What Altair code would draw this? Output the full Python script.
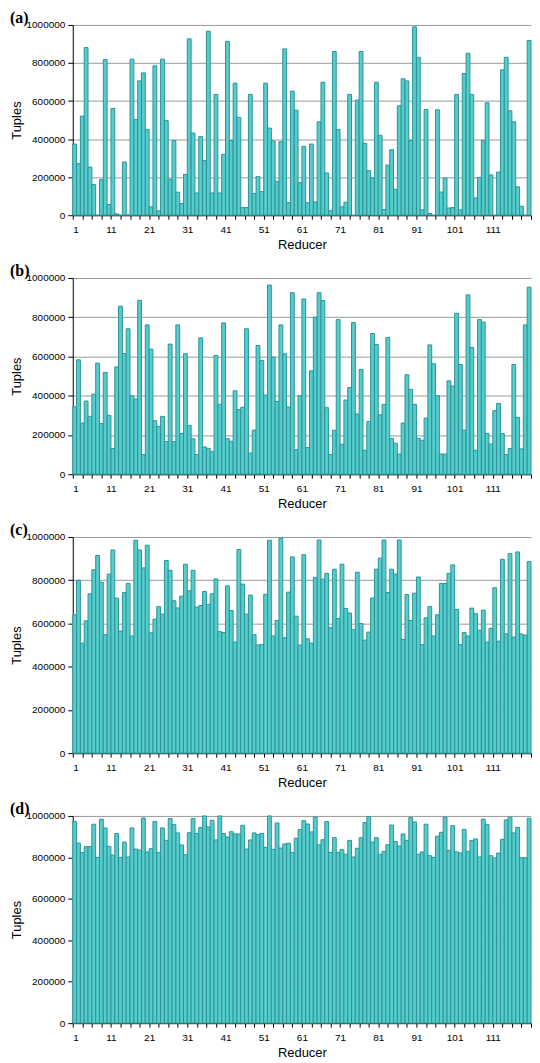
import altair as alt
import pandas as pd

reducers = list(range(1, 121))

a_vals = [374000, 271000, 521000, 881000, 253000, 161000, 0, 187000, 818000, 56000,
          561000, 7000, 0, 280000, 2000, 820000, 502000, 706000, 748000, 451000,
          44000, 785000, 23000, 820000, 497000, 189000, 392000, 121000, 61000, 215000,
          927000, 432000, 117000, 413000, 287000, 967000, 117000, 635000, 117000, 320000,
          914000, 393000, 694000, 514000, 40000, 40000, 635000, 115000, 203000, 124000,
          694000, 458000, 390000, 178000, 386000, 874000, 66000, 652000, 552000, 171000,
          362000, 65000, 374000, 70000, 491000, 699000, 222000, 24000, 860000, 451000,
          44000, 68000, 635000, 0, 605000, 860000, 378000, 234000, 196000, 699000,
          420000, 30000, 264000, 344000, 136000, 575000, 717000, 706000, 393000, 990000,
          830000, 28000, 556000, 9000, 0, 554000, 122000, 196000, 38000, 40000,
          635000, 28000, 745000, 851000, 635000, 91000, 199000, 393000, 591000, 212000,
          0, 227000, 764000, 830000, 549000, 491000, 149000, 47000, 0, 918000]

b_vals = [344000, 583000, 261000, 373000, 295000, 408000, 566000, 258000, 519000, 300000,
          131000, 547000, 856000, 615000, 741000, 400000, 383000, 886000, 100000, 761000,
          637000, 273000, 244000, 295000, 166000, 663000, 166000, 761000, 207000, 614000,
          249000, 180000, 100000, 695000, 139000, 132000, 115000, 605000, 356000, 771000,
          181000, 168000, 425000, 329000, 341000, 741000, 108000, 225000, 656000, 580000,
          403000, 964000, 597000, 371000, 761000, 614000, 342000, 925000, 125000, 400000,
          893000, 136000, 527000, 800000, 925000, 885000, 339000, 100000, 224000, 788000,
          153000, 378000, 442000, 773000, 307000, 534000, 122000, 269000, 717000, 661000,
          303000, 356000, 697000, 183000, 158000, 103000, 261000, 507000, 432000, 356000,
          183000, 173000, 286000, 659000, 563000, 400000, 103000, 103000, 476000, 449000,
          820000, 559000, 225000, 914000, 646000, 122000, 788000, 775000, 208000, 154000,
          324000, 361000, 207000, 100000, 131000, 559000, 290000, 129000, 761000, 953000]

c_vals = [640000, 800000, 509000, 612000, 737000, 848000, 914000, 791000, 548000, 828000,
          940000, 717000, 565000, 743000, 785000, 542000, 985000, 940000, 857000, 962000,
          557000, 620000, 678000, 643000, 891000, 846000, 705000, 672000, 726000, 874000,
          751000, 846000, 675000, 683000, 748000, 688000, 737000, 806000, 562000, 558000,
          774000, 660000, 514000, 942000, 782000, 643000, 731000, 548000, 500000, 503000,
          735000, 985000, 542000, 614000, 995000, 534000, 745000, 908000, 634000, 500000,
          918000, 529000, 509000, 812000, 986000, 805000, 832000, 580000, 851000, 623000,
          874000, 669000, 648000, 571000, 837000, 600000, 523000, 560000, 718000, 851000,
          902000, 986000, 743000, 851000, 829000, 986000, 526000, 734000, 614000, 740000,
          815000, 502000, 626000, 678000, 542000, 640000, 785000, 785000, 832000, 871000,
          665000, 502000, 558000, 542000, 671000, 645000, 569000, 662000, 514000, 577000,
          765000, 518000, 897000, 552000, 923000, 537000, 931000, 551000, 546000, 886000]

d_vals = [973000, 869000, 823000, 852000, 852000, 960000, 800000, 984000, 942000, 853000,
          811000, 915000, 800000, 874000, 802000, 942000, 840000, 835000, 990000, 826000,
          842000, 973000, 824000, 942000, 882000, 987000, 958000, 918000, 860000, 813000,
          919000, 987000, 916000, 944000, 1000000, 947000, 979000, 884000, 1000000, 915000,
          898000, 924000, 913000, 913000, 955000, 840000, 884000, 918000, 910000, 916000,
          848000, 1000000, 839000, 966000, 845000, 865000, 868000, 824000, 892000, 934000,
          977000, 961000, 923000, 995000, 861000, 885000, 973000, 824000, 895000, 824000,
          837000, 815000, 882000, 802000, 844000, 895000, 968000, 997000, 874000, 895000,
          815000, 829000, 861000, 956000, 877000, 855000, 913000, 882000, 992000, 971000,
          815000, 826000, 960000, 808000, 800000, 902000, 921000, 994000, 834000, 953000,
          827000, 821000, 935000, 829000, 882000, 889000, 802000, 984000, 958000, 808000,
          797000, 821000, 887000, 981000, 994000, 918000, 945000, 798000, 798000, 989000]

panel_labels = ["(a)", "(b)", "(c)", "(d)"]
panel_values = [a_vals, b_vals, c_vals, d_vals]
panel_heights = [191, 197, 217, 208]

x_tick_values = [1 + 2.5 * k for k in range(49)]
y_tick_values = [0, 200000, 400000, 600000, 800000, 1000000]

FILL = "#55CDCD"
EDGE = "#2E9396"


def panel(label, vals, h):
    df = pd.DataFrame({"reducer": reducers, "tuples": vals})
    df["reducer_end"] = df["reducer"] + 1
    return (
        alt.Chart(
            df,
            title=alt.TitleParams(
                label, anchor="start", frame="bounds", font="Liberation Serif",
                fontSize=16, fontWeight="bold", color="black", offset=-6,
            ),
        )
        .mark_bar(fill=FILL, stroke=EDGE, strokeWidth=1)
        .encode(
            x=alt.X(
                "reducer:Q",
                scale=alt.Scale(domain=[1, 121], nice=False, zero=False),
                axis=alt.Axis(
                    title="Reducer", values=x_tick_values, grid=False,
                    labelExpr="datum.value < 120 && (datum.value - 1) % 10 == 0 ? '' + datum.value : ''",
                    labelOverlap=False, tickSize=4, labelPadding=5, titlePadding=4,
                ),
            ),
            x2="reducer_end:Q",
            y=alt.Y(
                "tuples:Q",
                scale=alt.Scale(domain=[0, 1000000], nice=False),
                axis=alt.Axis(
                    title="Tuples", values=y_tick_values, format="d", grid=True,
                    tickSize=5, labelPadding=3, titlePadding=3,
                ),
            ),
            y2=alt.datum(0),
        )
        .properties(width=460, height=h)
    )


chart = (
    alt.vconcat(*[panel(l, v, h) for l, v, h in zip(panel_labels, panel_values, panel_heights)], spacing=12)
    .configure(padding={"left": 2, "top": 0, "right": 0, "bottom": 0}, background="white")
    .configure_view(stroke=None)
    .configure_axis(
        labelFont="Liberation Sans", labelFontSize=10, labelColor="black",
        titleFont="Liberation Sans", titleFontSize=13, titleFontWeight="normal", titleColor="black",
        domainColor="black", tickColor="black", domainWidth=1, tickWidth=1,
        gridColor="#9A9A9A", gridWidth=1, gridOpacity=1,
    )
)

chart.save("out.html", embed_options={"renderer": "svg", "actions": False})
